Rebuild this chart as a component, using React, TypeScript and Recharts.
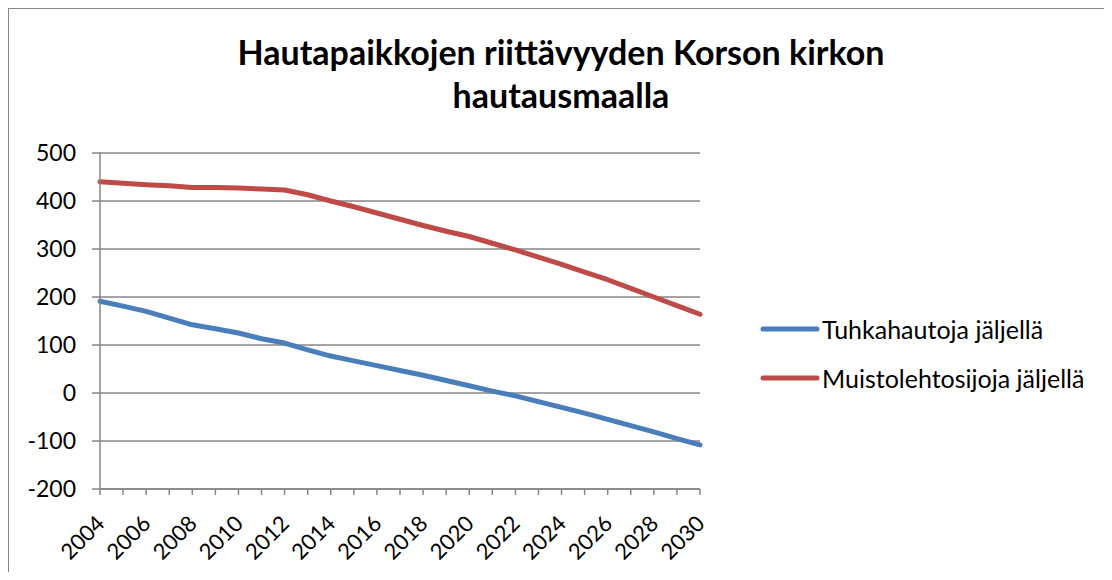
import React from "react";
import { LineChart, Line, XAxis, YAxis, CartesianGrid, Legend } from "recharts";

const years = [
  "2004", "2005", "2006", "2007", "2008", "2009", "2010", "2011", "2012",
  "2013", "2014", "2015", "2016", "2017", "2018", "2019", "2020", "2021",
  "2022", "2023", "2024", "2025", "2026", "2027", "2028", "2029", "2030",
];

const tuhkahautoja = [
  191, 181, 170, 156, 142, 134, 125, 113, 104,
  90, 77, 67, 57, 47, 37, 26, 15, 4,
  -6, -18, -30, -42, -55, -68, -81, -95, -108,
];

const muistolehtosijoja = [
  440, 437, 434, 432, 428, 428, 427, 425, 423,
  413, 400, 388, 375, 362, 349, 337, 326, 312,
  298, 283, 268, 252, 236, 218, 200, 182, 164,
];

const yTicks = [-200, -100, 0, 100, 200, 300, 400, 500];

const seriesNames = ["Tuhkahautoja jäljellä", "Muistolehtosijoja jäljellä"];

const titleLines = ["Hautapaikkojen riittävyyden Korson kirkon", "hautausmaalla"];

const data = years.map((year, i) => ({
  year,
  tuhka: tuhkahautoja[i],
  muisto: muistolehtosijoja[i],
}));

const FONT = "Lato, 'Open Sans', sans-serif";
const AXIS_GRAY = "#868686";

// only every other year gets a label, but every year keeps its tick mark
function YearTick(props: any) {
  const { x, y, payload, index } = props;
  if (index % 2 !== 0) return <g />;
  const tx = x + 6;
  const ty = y + 28;
  return (
    <text
      x={tx}
      y={ty}
      textAnchor="end"
      fontFamily={FONT}
      fontSize={22}
      fill="#000"
      transform={`rotate(-45, ${tx}, ${ty})`}
    >
      {payload.value}
    </text>
  );
}

function LegendBox(props: any) {
  const items = [...(props.payload || [])].sort(
    (a: any, b: any) => seriesNames.indexOf(a.value) - seriesNames.indexOf(b.value)
  );
  return (
    <div style={{ fontFamily: FONT, fontSize: 25, color: "#000" }}>
      {items.map((entry: any) => (
        <div key={entry.value} style={{ display: "flex", alignItems: "center", height: 49 }}>
          <svg width={60} height={10} style={{ display: "block" }}>
            <line x1={3} y1={5} x2={57} y2={5} stroke={entry.color} strokeWidth={5} strokeLinecap="round" />
          </svg>
          <span style={{ marginLeft: 2 }}>{entry.value}</span>
        </div>
      ))}
    </div>
  );
}

export default function App() {
  return (
    <div
      style={{
        position: "relative",
        width: 1095,
        height: 563,
        borderTop: `1px solid ${AXIS_GRAY}`,
        borderLeft: `1px solid ${AXIS_GRAY}`,
        background: "#fff",
        overflow: "hidden",
      }}
    >
      <div
        style={{
          position: "absolute",
          left: 0,
          top: 21,
          width: 1104,
          textAlign: "center",
          fontFamily: FONT,
          fontWeight: 700,
          fontSize: 34,
          lineHeight: "43px",
          color: "#000",
        }}
      >
        {titleLines.map((t) => (
          <div key={t}>{t}</div>
        ))}
      </div>
      <LineChart
        width={1095}
        height={563}
        data={data}
        margin={{ top: 144, right: 404, bottom: 0, left: 0 }}
      >
        <CartesianGrid vertical={false} stroke={AXIS_GRAY} strokeWidth={1.5} />
        <XAxis
          dataKey="year"
          interval={0}
          height={83}
          tickSize={6}
          tick={<YearTick />}
          axisLine={{ stroke: AXIS_GRAY, strokeWidth: 1.5 }}
          tickLine={{ stroke: AXIS_GRAY, strokeWidth: 1.5 }}
        />
        <YAxis
          width={91}
          domain={[-200, 500]}
          ticks={yTicks}
          interval={0}
          tickSize={8}
          tickMargin={16}
          axisLine={{ stroke: AXIS_GRAY, strokeWidth: 1.5 }}
          tickLine={{ stroke: AXIS_GRAY, strokeWidth: 1.5 }}
          tick={{ fill: "#000", fontFamily: FONT, fontSize: 23 }}
        />
        <Legend
          layout="vertical"
          align="center"
          verticalAlign="middle"
          content={<LegendBox />}
          wrapperStyle={{ left: 751, top: 295, width: 350 }}
        />
        <Line
          type="linear"
          dataKey="tuhka"
          name={seriesNames[0]}
          stroke="#4a7ebb"
          strokeWidth={5}
          strokeLinecap="round"
          strokeLinejoin="round"
          dot={false}
          activeDot={false}
          isAnimationActive={false}
        />
        <Line
          type="linear"
          dataKey="muisto"
          name={seriesNames[1]}
          stroke="#be4b48"
          strokeWidth={5}
          strokeLinecap="round"
          strokeLinejoin="round"
          dot={false}
          activeDot={false}
          isAnimationActive={false}
        />
      </LineChart>
    </div>
  );
}
